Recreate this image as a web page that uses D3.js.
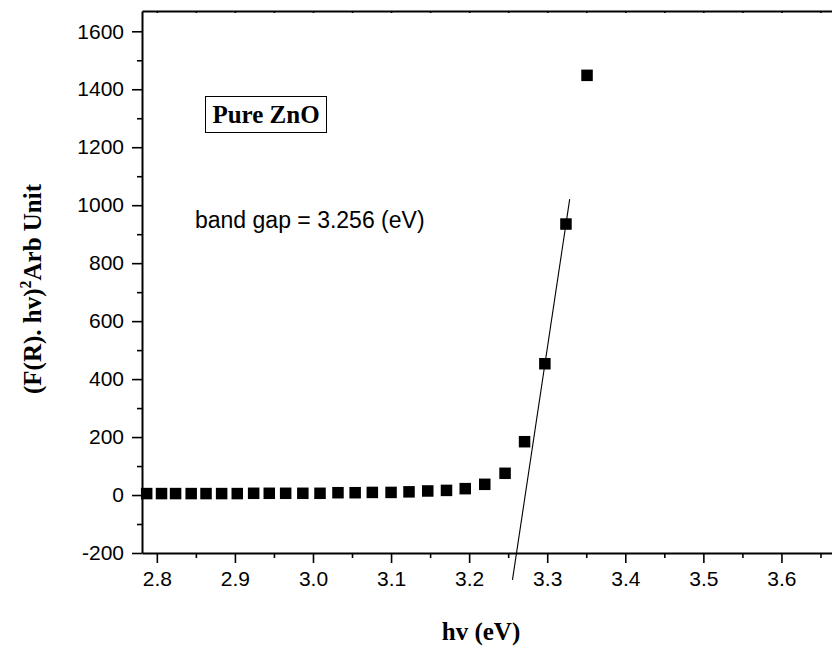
<!DOCTYPE html>
<html>
<head>
<meta charset="utf-8">
<script src="https://cdn.jsdelivr.net/npm/d3@7"></script>
<style>
    body { margin: 0; background: #fff; }
    svg { display: block; }
</style>
</head>
<body>
<svg width="832" height="648"></svg>
<script>
// photon energy (eV) and (F(R).hv)^2
const hvValues = [2.787, 2.806, 2.824, 2.844, 2.863, 2.883, 2.903, 2.924, 2.944, 2.965,
    2.987, 3.009, 3.032, 3.054, 3.076, 3.100, 3.123, 3.147, 3.171, 3.195,
    3.220, 3.246, 3.271, 3.297, 3.324, 3.351];
const fValues = [5, 5, 5, 5, 5, 5, 5, 6, 6, 6,
    6, 6, 8, 8, 9, 9, 11, 14, 16, 22,
    37, 75, 184, 453, 935, 1448];

// linear fit through the absorption edge
const fitHv = [3.2555, 3.3288];
const fitF = [-293, 1021];

const xMajorTicks = [2.8, 2.9, 3.0, 3.1, 3.2, 3.3, 3.4, 3.5, 3.6];
const xMinorTicks = [2.85, 2.95, 3.05, 3.15, 3.25, 3.35, 3.45, 3.55, 3.65];
const yMajorTicks = [-200, 0, 200, 400, 600, 800, 1000, 1200, 1400, 1600];
const yMinorTicks = [-100, 100, 300, 500, 700, 900, 1100, 1300, 1500];

const svg = d3.select("svg");

const xScale = d3.scaleLinear()
    .domain([2.781, 3.675])
    .range([142, 840]);

const yScale = d3.scaleLinear()
    .domain([-200, 1670])
    .range([553, 11]);

const sans = "'Liberation Sans', Arial, sans-serif";
const serif = "'Liberation Serif', 'Times New Roman', serif";

// bottom axis - major ticks with labels
svg.append("g")
    .attr("transform", "translate(0,553)")
    .call(d3.axisBottom(xScale)
        .tickValues(xMajorTicks)
        .tickSize(10)
        .tickSizeOuter(0)
        .tickPadding(8)
        .tickFormat(d => d.toFixed(1)));

// bottom axis - minor ticks
svg.append("g")
    .attr("transform", "translate(0,553)")
    .call(d3.axisBottom(xScale)
        .tickValues(xMinorTicks)
        .tickSize(5)
        .tickSizeOuter(0)
        .tickFormat(""))
    .select(".domain").remove();

// top frame with tiny ticks
svg.append("g")
    .attr("transform", "translate(0,11)")
    .call(d3.axisTop(xScale)
        .tickValues(xMajorTicks.concat(xMinorTicks))
        .tickSize(-2)
        .tickSizeOuter(0)
        .tickFormat(""));

// left axis
svg.append("g")
    .attr("transform", "translate(142,0)")
    .call(d3.axisLeft(yScale)
        .tickValues(yMajorTicks)
        .tickSize(10)
        .tickSizeOuter(0)
        .tickPadding(8)
        .tickFormat(d => String(d)));

svg.append("g")
    .attr("transform", "translate(142,0)")
    .call(d3.axisLeft(yScale)
        .tickValues(yMinorTicks)
        .tickSize(5)
        .tickSizeOuter(0)
        .tickFormat(""))
    .select(".domain").remove();

svg.selectAll(".domain")
    .attr("stroke", "#000")
    .attr("stroke-width", 2);
svg.selectAll(".tick line")
    .attr("stroke", "#000")
    .attr("stroke-width", 1.6);
svg.selectAll(".tick text")
    .attr("fill", "#000")
    .style("font-family", sans)
    .style("font-size", "21px");

// fit line (not clipped, runs below the axis like the original)
svg.append("line")
    .attr("x1", xScale(fitHv[0]))
    .attr("y1", yScale(fitF[0]))
    .attr("x2", xScale(fitHv[1]))
    .attr("y2", yScale(fitF[1]))
    .attr("stroke", "#000")
    .attr("stroke-width", 1.1);

// square markers
const size = 11.5;
svg.append("g")
    .selectAll("rect")
    .data(hvValues.map((h, i) => ({ hv: h, f: fValues[i] })))
    .enter().append("rect")
    .attr("x", d => xScale(d.hv) - size / 2)
    .attr("y", d => yScale(d.f) - size / 2)
    .attr("width", size)
    .attr("height", size)
    .attr("fill", "#000");

// "Pure ZnO" boxed label
svg.append("rect")
    .attr("x", 205.5)
    .attr("y", 96.5)
    .attr("width", 121)
    .attr("height", 36)
    .attr("fill", "none")
    .attr("stroke", "#000")
    .attr("stroke-width", 1);

svg.append("text")
    .attr("x", 266)
    .attr("y", 123)
    .attr("text-anchor", "middle")
    .style("font-family", serif)
    .style("font-weight", "bold")
    .style("font-size", "25px")
    .text("Pure ZnO");

svg.append("text")
    .attr("x", 195)
    .attr("y", 228)
    .style("font-family", sans)
    .style("font-size", "23px")
    .text("band gap = 3.256 (eV)");

// axis titles
svg.append("text")
    .attr("x", 481)
    .attr("y", 640)
    .attr("text-anchor", "middle")
    .style("font-family", serif)
    .style("font-weight", "bold")
    .style("font-size", "25px")
    .text("hv (eV)");

const yLabel = svg.append("text")
    .attr("transform", "translate(41,289) rotate(-90)")
    .attr("text-anchor", "middle")
    .style("font-family", serif)
    .style("font-weight", "bold")
    .style("font-size", "25px");
yLabel.append("tspan").text("(F(R). hv)");
yLabel.append("tspan")
    .attr("dy", -10)
    .style("font-size", "16px")
    .text("2");
yLabel.append("tspan")
    .attr("dy", 10)
    .text("Arb Unit");
</script>
</body>
</html>
